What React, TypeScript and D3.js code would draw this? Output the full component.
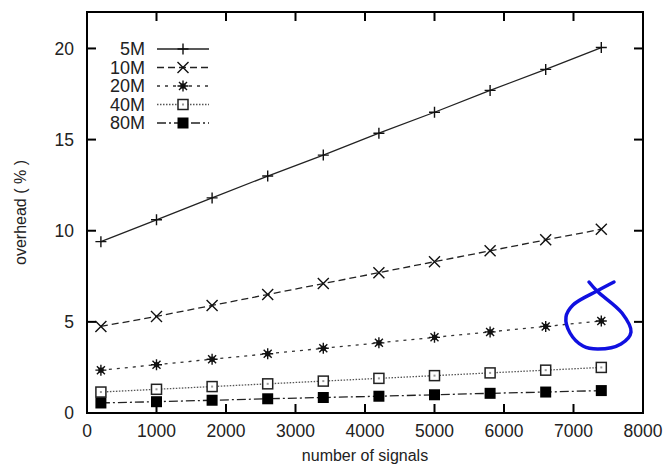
import React from "react";
import * as d3 from "d3";

// number of signals
const signals = [200, 1000, 1800, 2600, 3400, 4200, 5000, 5800, 6600, 7400];

// overhead (%) per bandwidth
const s5M = [9.4, 10.6, 11.8, 13.0, 14.15, 15.35, 16.5, 17.7, 18.85, 20.05];
const s10M = [4.75, 5.3, 5.9, 6.5, 7.1, 7.7, 8.3, 8.9, 9.5, 10.08];
const s20M = [2.35, 2.65, 2.95, 3.25, 3.55, 3.85, 4.15, 4.45, 4.75, 5.05];
const s40M = [1.15, 1.3, 1.45, 1.6, 1.75, 1.9, 2.05, 2.2, 2.35, 2.5];
const s80M = [0.55, 0.62, 0.7, 0.78, 0.85, 0.92, 1.0, 1.08, 1.15, 1.23];

const seriesNames = ["5M", "10M", "20M", "40M", "80M"];
const xTicks = [0, 1000, 2000, 3000, 4000, 5000, 6000, 7000, 8000];
const yTicks = [0, 5, 10, 15, 20];

const W = 670;
const H = 472;
const margin = { left: 87, right: 27, top: 12, bottom: 59 };

const dashes = ["", "7,4", "3,5", "1.5,1.5", "9,3,2,3"];
const strokes = ["#222", "#222", "#333", "#555", "#222"];

const Marker = ({ kind, x, y }: { kind: number; x: number; y: number }) => {
  const s = 5.5;
  const st = { stroke: "#111", strokeWidth: 1.4, fill: "none" };
  if (kind === 0)
    return <path d={`M${x - s},${y}H${x + s}M${x},${y - s}V${y + s}`} {...st} />;
  if (kind === 1)
    return <path d={`M${x - s},${y - s}L${x + s},${y + s}M${x - s},${y + s}L${x + s},${y - s}`} {...st} />;
  if (kind === 2)
    return (
      <g>
        <path
          d={`M${x - s},${y}H${x + s}M${x},${y - s}V${y + s}M${x - 4},${y - 4}L${x + 4},${y + 4}M${x - 4},${y + 4}L${x + 4},${y - 4}`}
          {...st}
        />
        <rect x={x - 2.5} y={y - 2.5} width={5} height={5} fill="#111" />
      </g>
    );
  if (kind === 3)
    return (
      <g>
        <rect x={x - 5} y={y - 5} width={10} height={10} fill="#fff" stroke="#222" strokeWidth={1.5} />
        <rect x={x - 1} y={y - 1} width={2} height={2} fill="#999" />
      </g>
    );
  return <rect x={x - 5.5} y={y - 5.5} width={11} height={11} fill="#000" />;
};

export default function App() {
  const x = d3.scaleLinear().domain([0, 8000]).range([margin.left, W - margin.right]);
  const y = d3.scaleLinear().domain([0, 22]).range([H - margin.bottom, margin.top]);
  const all = [s5M, s10M, s20M, s40M, s80M];
  const line = d3
    .line<number>()
    .x((_, i) => x(signals[i]))
    .y((d) => y(d));

  const x0 = x(0);
  const x1 = x(8000);
  const y0 = y(0);
  const y1 = y(22);
  const tick = 9;
  const font = "'Liberation Sans', Arial, Helvetica, sans-serif";

  // hand-drawn blue loop around the last 20M point
  const loop: [number, number][] = [
    [614, 282], [597, 291], [573, 305], [566, 317], [570, 333], [583, 346],
    [598, 349], [621, 344], [631, 332], [622, 313], [597, 291], [589, 282],
  ];
  const loopPath = d3.line().curve(d3.curveCatmullRom)(loop) || "";

  return (
    <svg width={W} height={H} style={{ position: "absolute", left: 0, top: 0 }} fontFamily={font}>
      <rect width={W} height={H} fill="#fff" />
      {all.map((vals, k) => (
        <path
          key={k}
          d={line(vals) || ""}
          fill="none"
          stroke={strokes[k]}
          strokeWidth={1.3}
          strokeDasharray={dashes[k]}
        />
      ))}
      {all.map((vals, k) =>
        vals.map((v, i) => <Marker key={`${k}-${i}`} kind={k} x={x(signals[i])} y={y(v)} />)
      )}
      {/* frame */}
      <rect x={x0} y={y1} width={x1 - x0} height={y0 - y1} fill="none" stroke="#000" strokeWidth={2} />
      {xTicks.map((t) => (
        <g key={t}>
          <line x1={x(t)} x2={x(t)} y1={y0} y2={y0 - tick} stroke="#000" strokeWidth={2} />
          <line x1={x(t)} x2={x(t)} y1={y1} y2={y1 + tick} stroke="#000" strokeWidth={2} />
          <text x={x(t)} y={y0 + 24} textAnchor="middle" fontSize={17.5} fill="#222">
            {t}
          </text>
        </g>
      ))}
      {yTicks.map((t) => (
        <g key={t}>
          <line x1={x0} x2={x0 + tick} y1={y(t)} y2={y(t)} stroke="#000" strokeWidth={2} />
          <line x1={x1} x2={x1 - tick} y1={y(t)} y2={y(t)} stroke="#000" strokeWidth={2} />
          <text x={x0 - 13} y={y(t)} dy="0.35em" textAnchor="end" fontSize={17.5} fill="#222">
            {t}
          </text>
        </g>
      ))}
      <text x={(x0 + x1) / 2} y={461} textAnchor="middle" fontSize={16} fill="#222">
        number of signals
      </text>
      <text
        transform={`translate(26,${(y0 + y1) / 2}) rotate(-90)`}
        textAnchor="middle"
        fontSize={16}
        fill="#222"
      >
        overhead ( % )
      </text>
      {/* legend */}
      {seriesNames.map((name, k) => {
        const ly = 49 + k * 18.5;
        return (
          <g key={name}>
            <text x={145} y={ly} dy="0.35em" textAnchor="end" fontSize={18} fill="#222">
              {name}
            </text>
            <line
              x1={157}
              x2={209}
              y1={ly}
              y2={ly}
              stroke={strokes[k]}
              strokeWidth={1.3}
              strokeDasharray={dashes[k]}
            />
            <Marker kind={k} x={183} y={ly} />
          </g>
        );
      })}
      <path d={loopPath} fill="none" stroke="#1010e0" strokeWidth={3.5} strokeLinecap="round" strokeLinejoin="round" />
    </svg>
  );
}
